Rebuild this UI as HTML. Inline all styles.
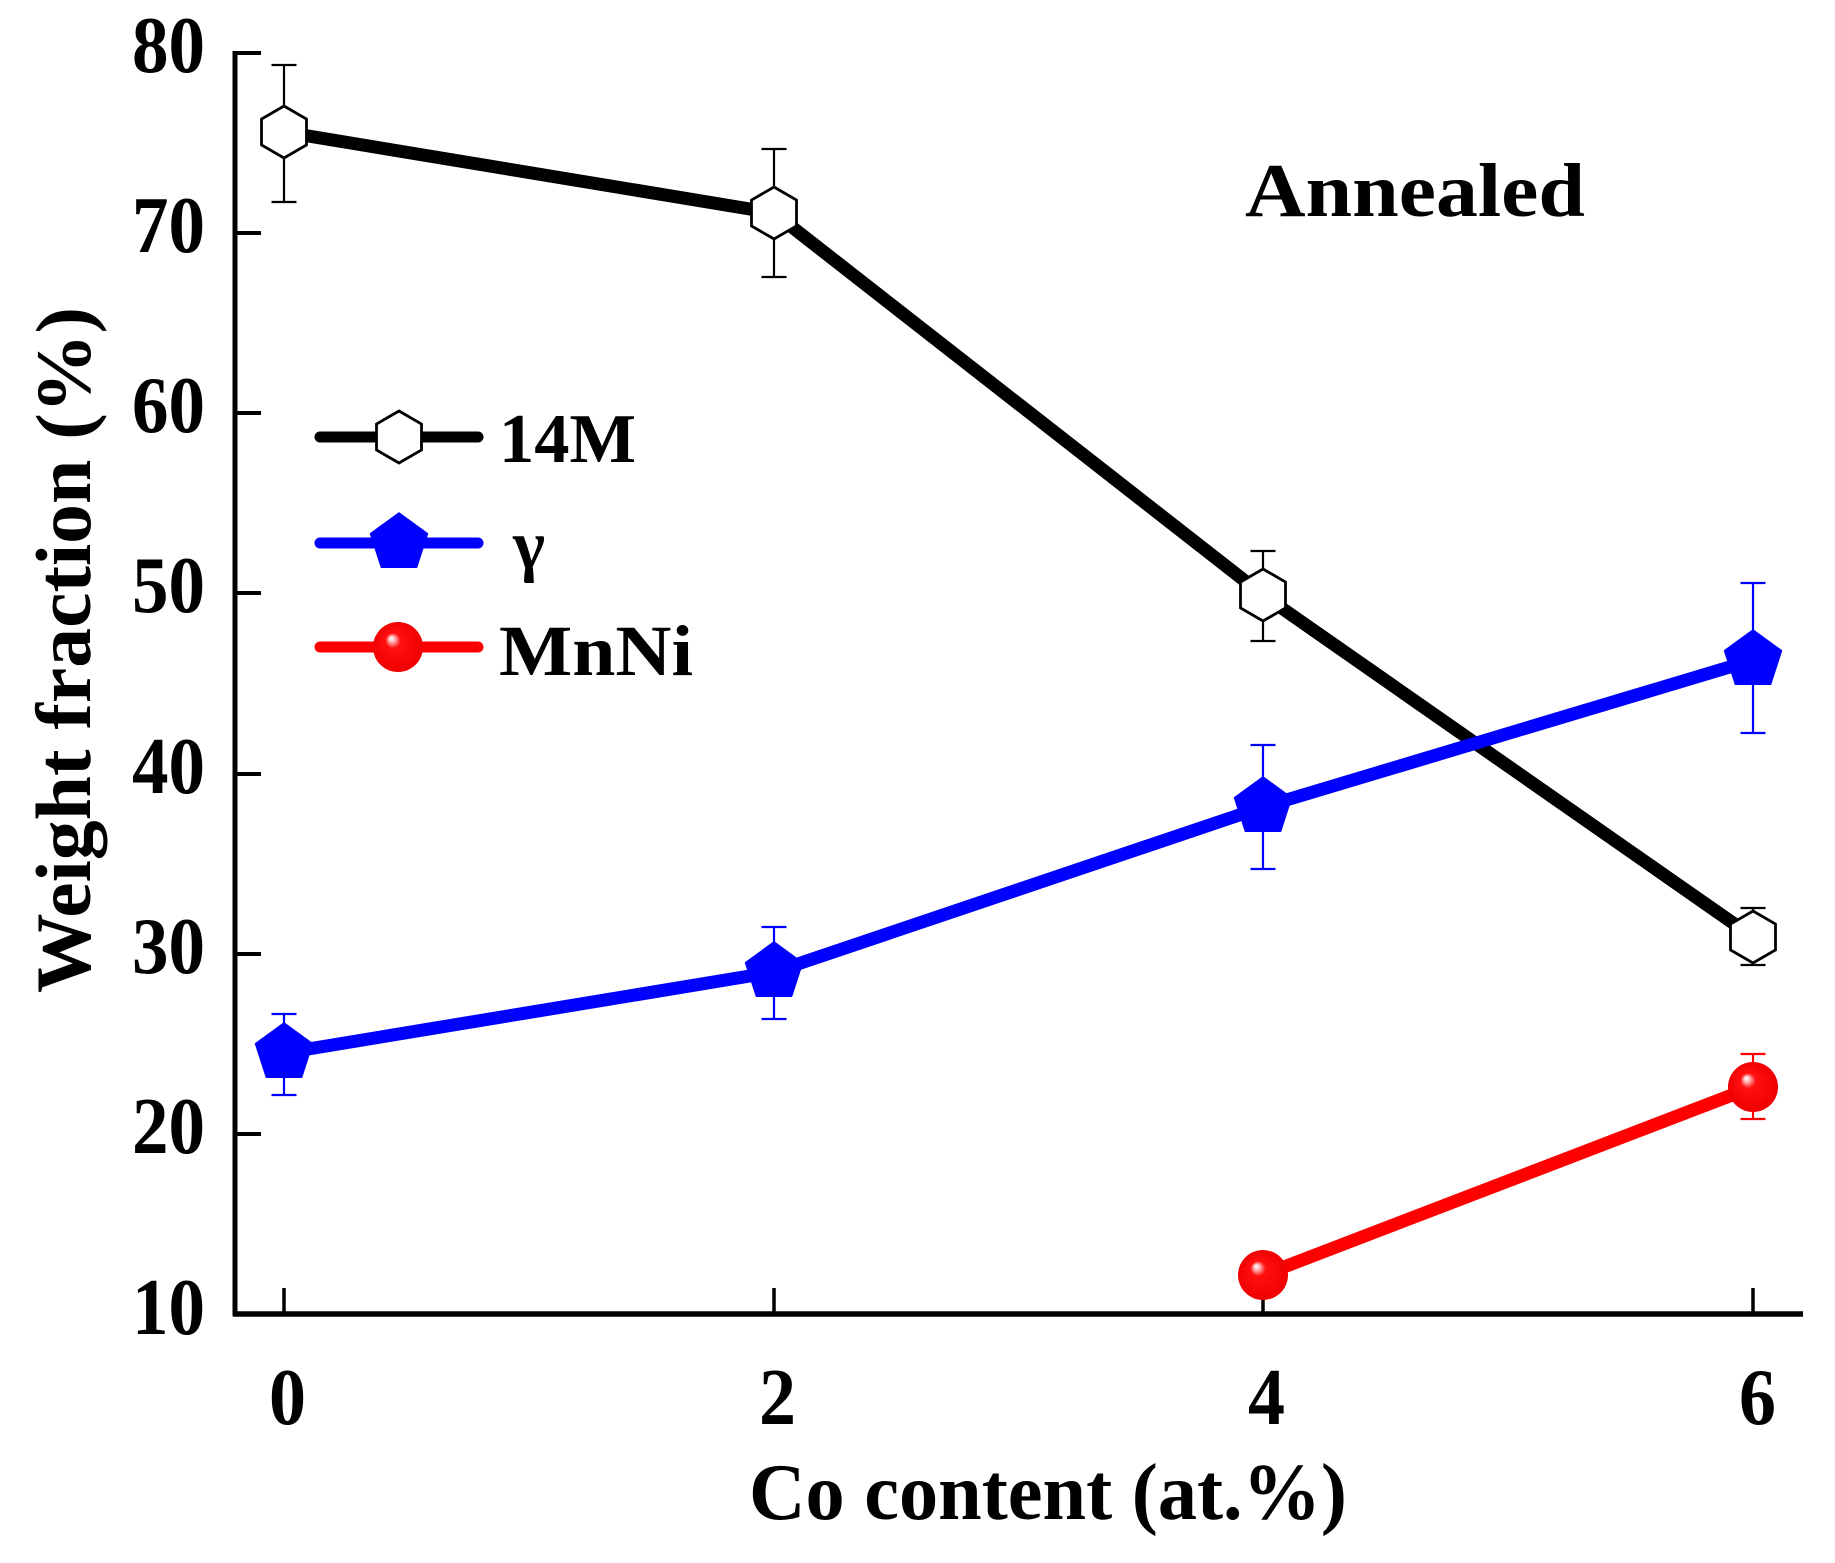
<!DOCTYPE html>
<html>
<head>
<meta charset="utf-8">
<style>
  html, body { margin: 0; padding: 0; background: #ffffff; }
  svg { display: block; }
  text { font-family: "Liberation Serif", "DejaVu Serif", serif; fill: #000; }
</style>
</head>
<body>
<svg width="1835" height="1563" viewBox="0 0 1835 1563" xmlns="http://www.w3.org/2000/svg">
  <defs>
    <radialGradient id="sph" cx="0.5" cy="0.5" r="0.5" fx="0.36" fy="0.32">
      <stop offset="0" stop-color="#ffffff"/>
      <stop offset="0.1" stop-color="#ffc8c8"/>
      <stop offset="0.3" stop-color="#ff1010"/>
      <stop offset="1" stop-color="#f00000"/>
    </radialGradient>
    <polygon id="hex" points="0,-26 22.5,-13 22.5,13 0,26 -22.5,13 -22.5,-13" fill="#fff" stroke="#000" stroke-width="2.8" stroke-linejoin="miter"/>
    <polygon id="pent" points="0,-30 28.5,-9.3 17.6,24.3 -17.6,24.3 -28.5,-9.3" fill="#0000ff" stroke="#0000ff" stroke-width="1.5" stroke-linejoin="round"/>
    <circle id="sphere" r="25" fill="url(#sph)"/>
  </defs>

  <rect width="1835" height="1563" fill="#ffffff"/>

  <!-- Axes -->
  <line x1="235" y1="51" x2="235" y2="1316" stroke="#000" stroke-width="5"/>
  <line x1="233" y1="1314" x2="1803" y2="1314" stroke="#000" stroke-width="5.5"/>
  <!-- Y ticks -->
  <g stroke="#000" stroke-width="4">
    <line x1="235" y1="53" x2="261" y2="53"/>
    <line x1="235" y1="233" x2="261" y2="233"/>
    <line x1="235" y1="413" x2="261" y2="413"/>
    <line x1="235" y1="593" x2="261" y2="593"/>
    <line x1="235" y1="774" x2="261" y2="774"/>
    <line x1="235" y1="954" x2="261" y2="954"/>
    <line x1="235" y1="1134" x2="261" y2="1134"/>
  </g>
  <!-- X ticks -->
  <g stroke="#000" stroke-width="3.5">
    <line x1="284" y1="1288" x2="284" y2="1314"/>
    <line x1="774" y1="1288" x2="774" y2="1314"/>
    <line x1="1263" y1="1288" x2="1263" y2="1314"/>
    <line x1="1753" y1="1288" x2="1753" y2="1314"/>
  </g>

  <!-- Y tick labels -->
  <g font-size="80" font-weight="bold">
    <text x="132" y="72" textLength="73" lengthAdjust="spacingAndGlyphs">80</text>
    <text x="132" y="252" textLength="73" lengthAdjust="spacingAndGlyphs">70</text>
    <text x="132" y="432" textLength="73" lengthAdjust="spacingAndGlyphs">60</text>
    <text x="132" y="612" textLength="73" lengthAdjust="spacingAndGlyphs">50</text>
    <text x="132" y="793" textLength="73" lengthAdjust="spacingAndGlyphs">40</text>
    <text x="132" y="973" textLength="73" lengthAdjust="spacingAndGlyphs">30</text>
    <text x="132" y="1153" textLength="73" lengthAdjust="spacingAndGlyphs">20</text>
    <text x="132" y="1334" textLength="73" lengthAdjust="spacingAndGlyphs">10</text>
  </g>
  <!-- X tick labels -->
  <g font-size="80" font-weight="bold">
    <text x="269" y="1424" textLength="37" lengthAdjust="spacingAndGlyphs">0</text>
    <text x="759" y="1424" textLength="37" lengthAdjust="spacingAndGlyphs">2</text>
    <text x="1248" y="1424" textLength="37" lengthAdjust="spacingAndGlyphs">4</text>
    <text x="1739" y="1424" textLength="37" lengthAdjust="spacingAndGlyphs">6</text>
  </g>

  <!-- Axis titles -->
  <text x="749" y="1519" font-size="80" font-weight="bold" textLength="598" lengthAdjust="spacingAndGlyphs">Co content (at.%)</text>
  <text transform="translate(90,993) rotate(-90)" font-size="78" font-weight="bold" textLength="686" lengthAdjust="spacingAndGlyphs">Weight fraction (%)</text>

  <!-- Annotation -->
  <text x="1245" y="216" font-size="76" font-weight="bold" textLength="340" lengthAdjust="spacingAndGlyphs">Annealed</text>

  <!-- Error bars -->
  <g stroke="#000" stroke-width="2.2" fill="none">
    <path d="M284,65 V202 M271.5,65 H296.5 M271.5,202 H296.5"/>
    <path d="M774,149 V277 M761.5,149 H786.5 M761.5,277 H786.5"/>
    <path d="M1263,551 V641 M1250.5,551 H1275.5 M1250.5,641 H1275.5"/>
    <path d="M1753,908 V965 M1740.5,908 H1765.5 M1740.5,965 H1765.5"/>
  </g>
  <g stroke="#0000ff" stroke-width="2.2" fill="none">
    <path d="M284,1014 V1095 M271.5,1014 H296.5 M271.5,1095 H296.5"/>
    <path d="M774,927 V1019 M761.5,927 H786.5 M761.5,1019 H786.5"/>
    <path d="M1263,745 V869 M1250.5,745 H1275.5 M1250.5,869 H1275.5"/>
    <path d="M1753,583 V733 M1740.5,583 H1765.5 M1740.5,733 H1765.5"/>
  </g>
  <g stroke="#ff0000" stroke-width="2.2" fill="none">
    <path d="M1753,1054 V1119 M1740.5,1054 H1765.5 M1740.5,1119 H1765.5"/>
  </g>

  <!-- Series lines -->
  <polyline points="284,132 774,213 1263,595 1753,937" fill="none" stroke="#000" stroke-width="13" stroke-linejoin="round"/>
  <polyline points="284,1053 774,972 1263,807 1753,660" fill="none" stroke="#0000ff" stroke-width="13" stroke-linejoin="round"/>
  <polyline points="1263,1275 1753,1087" fill="none" stroke="#ff0000" stroke-width="13" stroke-linejoin="round"/>

  <!-- Markers -->
  <use href="#hex" x="284" y="132"/>
  <use href="#hex" x="774" y="213"/>
  <use href="#hex" x="1263" y="595"/>
  <use href="#hex" x="1753" y="937"/>

  <use href="#pent" x="284" y="1053"/>
  <use href="#pent" x="774" y="972"/>
  <use href="#pent" x="1263" y="807"/>
  <use href="#pent" x="1753" y="660"/>

  <use href="#sphere" x="1263" y="1275"/>
  <use href="#sphere" x="1753" y="1087"/>

  <!-- Legend -->
  <line x1="320" y1="437" x2="478" y2="437" stroke="#000" stroke-width="11" stroke-linecap="round"/>
  <use href="#hex" x="399" y="437"/>
  <text x="499" y="462" font-size="70" font-weight="bold" textLength="137" lengthAdjust="spacingAndGlyphs">14M</text>

  <line x1="320" y1="543" x2="478" y2="543" stroke="#0000ff" stroke-width="11" stroke-linecap="round"/>
  <use href="#pent" x="399" y="543"/>
  <text x="513" y="568" font-size="70" font-weight="bold" textLength="32" lengthAdjust="spacingAndGlyphs">γ</text>

  <line x1="320" y1="647" x2="478" y2="647" stroke="#ff0000" stroke-width="11" stroke-linecap="round"/>
  <use href="#sphere" x="398" y="647"/>
  <text x="499" y="675" font-size="72" font-weight="bold" textLength="194" lengthAdjust="spacingAndGlyphs">MnNi</text>
</svg>
</body>
</html>
